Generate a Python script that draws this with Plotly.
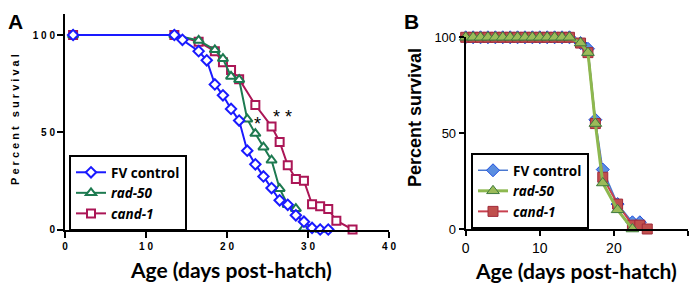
import plotly.graph_objects as go

# ---------------- Data: panel A ----------------
a_fv_days = [1, 13.5, 14.5, 16.5, 17.5, 18.5, 19.5, 20.5, 21.5, 22.5, 23.5, 24.5, 25.5, 26.5, 27.5, 28.5, 29.5, 30.5, 31.5, 32.5]
a_fv_surv = [100, 100, 97.5, 91.7, 87, 74.6, 69, 62, 56, 40.5, 33.5, 27.3, 21.3, 15, 12.7, 7.3, 4, 0.8, 0, 0]

a_rad_days = [1, 13.5, 16.5, 18.5, 19.5, 20.5, 21.5, 22.5, 23.5, 24.5, 25.5, 26.5, 27.5, 28.5, 29.5, 31.5]
a_rad_surv = [100, 100, 97.2, 92.4, 87.8, 78.7, 77, 56.7, 49.3, 42.3, 35.6, 21, 12.7, 10.7, 0.6, 0]

a_cand_days = [1, 13.5, 16.5, 18.5, 19.5, 20.5, 21.5, 23.5, 25.5, 26.5, 27.5, 28.5, 29.5, 30.5, 31.5, 32.5, 33.5, 35.5]
a_cand_surv = [100, 100, 96.5, 91.7, 86, 82, 77.3, 64, 53, 45, 33, 26, 25, 13, 12, 10.5, 4.5, 0]

# ---------------- Data: panel B ----------------
b_fv_days = list(range(0, 15)) + [15.5, 16.5, 17.5, 18.5, 20.5, 22.5, 23.5]
b_fv_surv = [100] * 15 + [97, 94, 57, 31, 13, 3.5, 3.5]

b_cand_days = list(range(0, 15)) + [15.5, 16.5, 17.5, 18.5, 20.5, 22.5, 23.5, 24.5]
b_cand_surv = [100] * 15 + [97, 92, 55, 27, 13, 2, 2, 0]

b_rad_days = list(range(0, 15)) + [15.5, 16.5, 17.5, 18.5, 20.5, 22.5]
b_rad_surv = [100] * 15 + [97, 92, 55, 24, 10, 0]

series_names = ["FV control", "<i>rad-50</i>", "<i>cand-1</i>"]

a_xticks = [0, 10, 20, 30, 40]
a_yticks = [0, 50, 100]
b_xticks = [0, 10, 20, 30]
b_yticks = [0, 50, 100]

NB = "\u00a0"


def spaced(s):
    return NB.join(str(s))


LEG_FONT = "'Open Sans', Lato, sans-serif"
TITLE_FONT = "Lato, 'Open Sans', sans-serif"
ARIAL = "'Liberation Sans', Arial, sans-serif"

fig = go.Figure()

# ---- Panel A traces (drawn: cand, rad, fv on top) ----
A_BLUE = "#1a1aff"
A_GREEN = "#1d7a50"
A_RED = "#ab1656"

fig.add_trace(go.Scatter(
    x=a_cand_days, y=a_cand_surv, name=series_names[2], mode="lines+markers",
    line=dict(color=A_RED, width=2),
    marker=dict(symbol="square", size=8, color="white", line=dict(color=A_RED, width=2)),
    xaxis="x", yaxis="y", legend="legend", legendrank=3, cliponaxis=False))
fig.add_trace(go.Scatter(
    x=a_rad_days, y=a_rad_surv, name=series_names[1], mode="lines+markers",
    line=dict(color=A_GREEN, width=2),
    marker=dict(symbol="triangle-up", size=9, color="white", line=dict(color=A_GREEN, width=2)),
    xaxis="x", yaxis="y", legend="legend", legendrank=2, cliponaxis=False))
fig.add_trace(go.Scatter(
    x=a_fv_days, y=a_fv_surv, name=series_names[0], mode="lines+markers",
    line=dict(color=A_BLUE, width=2),
    marker=dict(symbol="diamond", size=8, color="white", line=dict(color=A_BLUE, width=2)),
    xaxis="x", yaxis="y", legend="legend", legendrank=1, cliponaxis=False))

# ---- Panel B traces (drawn: fv, cand, rad on top) ----
fig.add_trace(go.Scatter(
    x=b_fv_days, y=b_fv_surv, name=series_names[0], mode="lines+markers",
    line=dict(color="#4a78d0", width=1.5),
    marker=dict(symbol="diamond", size=10, color="#5b8ee0", line=dict(color="#1f4fe0", width=1)),
    xaxis="x2", yaxis="y2", legend="legend2", legendrank=1, cliponaxis=False))
fig.add_trace(go.Scatter(
    x=b_cand_days, y=b_cand_surv, name=series_names[2], mode="lines+markers",
    line=dict(color="#c8404f", width=2),
    marker=dict(symbol="square", size=10, color="#c0504d", line=dict(color="#a02a3a", width=1)),
    xaxis="x2", yaxis="y2", legend="legend2", legendrank=3, cliponaxis=False))
fig.add_trace(go.Scatter(
    x=b_rad_days, y=b_rad_surv, name=series_names[1], mode="lines+markers",
    line=dict(color="#8db84f", width=3),
    marker=dict(symbol="triangle-up", size=11, color="#9bbb59", line=dict(color="#3e7a3e", width=1)),
    xaxis="x2", yaxis="y2", legend="legend2", legendrank=2, cliponaxis=False))

# page is 700x293 with an 8px body margin around the figure
OFF = 8
W, H = 700 - 2 * OFF, 293 - 2 * OFF


def px(x):
    return (x - OFF) / W


def py(y):
    return min(1.0, max(0.0, 1 - (y - OFF) / H))


axis_common = dict(showgrid=False, zeroline=False, showline=True, linecolor="black",
                   ticks="outside", tickcolor="black", automargin=False)

fig.update_layout(
    template="none",
    width=W, height=H, margin=dict(l=0, r=0, t=0, b=0, autoexpand=False),
    paper_bgcolor="white", plot_bgcolor="white",
    xaxis=dict(**axis_common, domain=[px(65), px(389)], range=[0, 40], linewidth=2,
               tickwidth=2, ticklen=6, tickvals=a_xticks,
               ticktext=[spaced(t) for t in a_xticks],
               tickfont=dict(family=ARIAL, size=10, color="black", weight="bold"),
               anchor="y"),
    yaxis=dict(**axis_common, domain=[py(229.5), py(13.6)], range=[0, 111], linewidth=2,
               tickwidth=2, ticklen=6, tickvals=a_yticks,
               ticktext=[spaced(t) for t in a_yticks],
               tickfont=dict(family=ARIAL, size=10, color="black", weight="bold"),
               anchor="x"),
    xaxis2=dict(**axis_common, domain=[px(465.7), px(688)], range=[0, 30], linewidth=2,
                tickwidth=1.5, ticklen=5, tickvals=b_xticks,
                tickfont=dict(family=ARIAL, size=14, color="black"),
                anchor="y2"),
    yaxis2=dict(**axis_common, domain=[py(229), py(37.3)], range=[0, 100], linewidth=2,
                tickwidth=1.5, ticklen=5, tickvals=b_yticks,
                tickfont=dict(family=ARIAL, size=13, color="black"),
                anchor="x2"),
    legend=dict(x=px(69), y=py(155), xanchor="left", yanchor="top",
                bordercolor="black", borderwidth=2, bgcolor="white",
                font=dict(family=LEG_FONT, size=13.5, color="black", weight="bold")),
    legend2=dict(x=px(471), y=py(153), xanchor="left", yanchor="top",
                 bordercolor="black", borderwidth=2, bgcolor="white",
                 font=dict(family=LEG_FONT, size=13.5, color="black", weight="bold")),
    showlegend=True,
)


def ann(text, x, y, size, family=ARIAL, angle=0, ref="paper"):
    if ref == "paper":
        return dict(text=text, x=px(x), y=py(y), xref="paper", yref="paper",
                    xanchor="center", yanchor="middle", textangle=angle, showarrow=False,
                    font=dict(family=family, size=size, color="black"))
    return dict(text=text, x=x, y=y, xref="x", yref="y", xanchor="center", yanchor="middle",
                showarrow=False, font=dict(family=family, size=size, color="black"))


annotations = [
    ann("<b>A</b>", 15, 21, 21),
    ann("<b>B</b>", 411, 21, 21),
    ann("<b>" + spaced("Percent") + NB * 3 + spaced("survival") + "</b>", 15, 120, 11, angle=-90),
    ann("<b>Percent survival</b>", 415, 118, 18, angle=-90),
    ann("<b>Age (days post-hatch)</b>", 231, 269, 21, family=TITLE_FONT),
    ann("<b>Age (days post-hatch)</b>", 576, 270, 21, family=TITLE_FONT),
    ann("*", 23.8, 54, 18, ref="data"),
    ann("*" + NB + "*", 26.9, 58, 18, ref="data"),
]
fig.update_layout(annotations=annotations)

fig.write_html("out.html")
